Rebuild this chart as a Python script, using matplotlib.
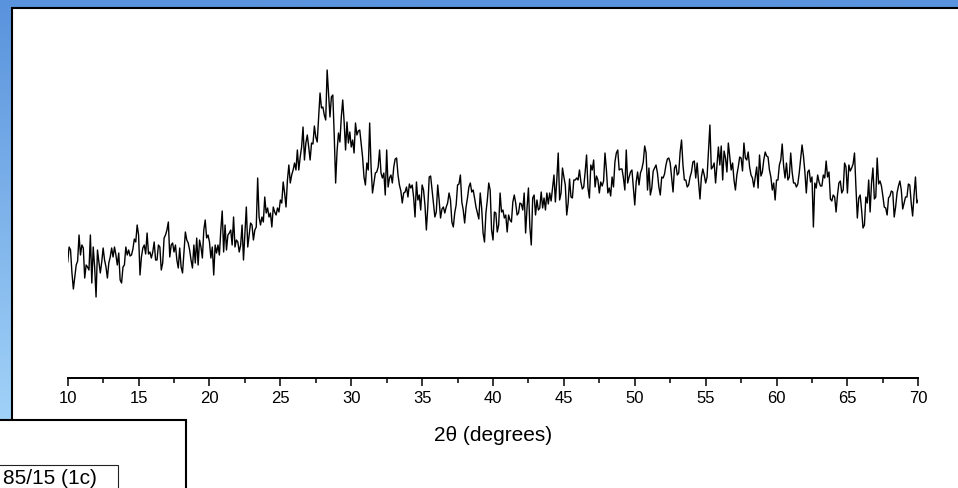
import numpy as np
import matplotlib
matplotlib.use('Agg')
import matplotlib.pyplot as plt
from matplotlib.patches import Rectangle

plt.rcParams['font.family'] = ['Liberation Sans', 'DejaVu Sans']

# ---------------- data ----------------
two_theta_start = 10.0
two_theta_end = 70.0
two_theta_step = 0.1

intensity = [
    58, 73, 70, 47, 31, 43, 55, 59, 85, 65,
    75, 72, 42, 55, 53, 50, 85, 37, 73, 53,
    23, 70, 58, 47, 58, 72, 60, 53, 42, 57,
    63, 72, 63, 73, 65, 55, 67, 40, 37, 53,
    55, 73, 65, 70, 64, 65, 71, 81, 78, 95,
    85, 45, 63, 72, 75, 66, 87, 66, 68, 62,
    68, 78, 60, 60, 75, 73, 50, 57, 82, 85,
    90, 98, 63, 75, 77, 68, 75, 60, 52, 72,
    53, 47, 68, 88, 80, 77, 70, 60, 52, 75,
    57, 82, 55, 80, 73, 62, 90, 100, 82, 85,
    78, 62, 73, 45, 75, 67, 75, 65, 90, 109,
    68, 95, 70, 85, 87, 90, 75, 103, 73, 80,
    78, 68, 75, 95, 60, 87, 113, 73, 85, 97,
    95, 80, 90, 93, 142, 103, 95, 103, 98, 123,
    107, 112, 103, 107, 93, 113, 108, 105, 112, 108,
    120, 117, 138, 127, 113, 140, 155, 137, 145, 150,
    157, 150, 170, 150, 163, 173, 193, 160, 177, 185,
    173, 160, 177, 176, 194, 183, 178, 203, 227, 212,
    213, 205, 200, 250, 227, 203, 223, 225, 185, 137,
    169, 187, 178, 203, 220, 198, 170, 198, 177, 188,
    173, 180, 167, 197, 185, 189, 190, 177, 163, 143,
    135, 157, 150, 197, 153, 127, 137, 147, 148, 153,
    170, 147, 142, 147, 125, 170, 133, 142, 145, 137,
    153, 161, 162, 145, 135, 129, 117, 127, 128, 133,
    123, 136, 132, 135, 123, 103, 138, 120, 125, 110,
    135, 130, 115, 90, 113, 143, 144, 130, 115, 103,
    108, 135, 120, 102, 111, 113, 107, 113, 117, 127,
    120, 98, 93, 107, 115, 135, 136, 145, 118, 110,
    97, 113, 122, 133, 137, 128, 130, 122, 113, 107,
    101, 127, 112, 87, 78, 107, 120, 137, 130, 90,
    80, 108, 107, 88, 95, 127, 108, 110, 102, 105,
    88, 105, 100, 98, 118, 125, 117, 105, 107, 117,
    116, 110, 127, 87, 112, 132, 93, 75, 122, 125,
    105, 120, 110, 112, 128, 112, 122, 110, 127, 116,
    127, 119, 132, 145, 118, 140, 167, 120, 127, 152,
    143, 135, 105, 117, 141, 123, 122, 140, 140, 142,
    140, 150, 138, 131, 133, 148, 165, 132, 122, 155,
    150, 160, 133, 144, 140, 127, 138, 134, 139, 167,
    150, 127, 132, 124, 143, 133, 158, 167, 170, 150,
    151, 151, 142, 130, 170, 137, 143, 148, 150, 132,
    115, 138, 148, 135, 147, 151, 158, 174, 167, 130,
    152, 125, 132, 149, 152, 155, 147, 133, 125, 143,
    142, 146, 155, 161, 162, 157, 142, 128, 152, 155,
    145, 147, 168, 180, 155, 140, 140, 133, 135, 143,
    148, 158, 159, 142, 157, 138, 121, 143, 151, 145,
    137, 143, 170, 195, 151, 153, 157, 137, 155, 173,
    155, 174, 140, 169, 162, 148, 177, 163, 150, 157,
    140, 130, 145, 153, 163, 162, 149, 177, 162, 160,
    168, 153, 145, 142, 133, 143, 153, 132, 165, 144,
    148, 160, 168, 164, 163, 150, 143, 130, 137, 120,
    140, 140, 155, 160, 176, 154, 142, 157, 140, 143,
    167, 148, 137, 137, 133, 136, 147, 161, 175, 164,
    148, 127, 148, 150, 138, 143, 93, 137, 132, 145,
    138, 134, 134, 145, 142, 159, 143, 148, 121, 119,
    125, 123, 108, 125, 137, 139, 127, 130, 157, 153,
    127, 155, 149, 152, 156, 167, 133, 102, 122, 125,
    110, 92, 95, 123, 117, 140, 108, 137, 152, 121,
    123, 162, 136, 139, 134, 124, 113, 112, 105, 122,
    124, 129, 128, 103, 113, 127, 134, 139, 130, 111,
    117, 123, 123, 136, 135, 117, 104, 125, 143, 117, 120,
]
two_theta = two_theta_start + two_theta_step * np.arange(len(intensity))

x_ticks = [10, 15, 20, 25, 30, 35, 40, 45, 50, 55, 60, 65, 70]
x_label = '2θ (degrees)'
sample_label = '85/15 (1c)'

# ---------------- layout ----------------
W, H = 958, 488
fig = plt.figure(figsize=(W / 100, H / 100), dpi=100)


def fx(px):
    return px / W


def fy(py):
    return 1 - py / H


bg = fig.add_axes([0, 0, 1, 1])
bg.set_axis_off()
g = np.linspace(0, 1, 256)[:, None, None]
top = np.array([90, 147, 221]) / 255.0
bot = np.array([172, 220, 252]) / 255.0
img = top + (bot - top) * g
img = np.repeat(img, 2, axis=1)
bg.imshow(img, aspect='auto', extent=[0, 1, 0, 1], origin='upper', zorder=0)
bg.set_xlim(0, 1)
bg.set_ylim(0, 1)

# white panel
bg.add_patch(Rectangle((fx(11.7), -0.1), 1.2, fy(7.7) + 0.1,
                       facecolor='white', edgecolor='black', lw=1.5,
                       clip_on=False, zorder=1))
# lower-left box
bg.add_patch(Rectangle((-0.1, -0.1), fx(185.7) + 0.1, fy(419.8) + 0.1,
                       facecolor='white', edgecolor='black', lw=1.5,
                       clip_on=False, zorder=2))
bg.add_patch(Rectangle((-0.1, -0.1), fx(118.3) + 0.1, fy(464.5) + 0.1,
                       facecolor='white', edgecolor='#222222', lw=0.8,
                       clip_on=False, zorder=3))
bg.text(fx(2.7), fy(483.5), sample_label, fontsize=15, color='black',
        ha='left', va='baseline', zorder=4)

# main axes
left_px, right_px = 67.7, 918.3
bottom_px, top_px = 377.5, 20.0
ax = fig.add_axes([fx(left_px), fy(bottom_px),
                   fx(right_px) - fx(left_px), fy(top_px) - fy(bottom_px)])
ax.patch.set_alpha(0)
ax.plot(two_theta, intensity, color='black', lw=1.0)
ax.set_xlim(10, 70)
ax.set_ylim(-57.5, 300)
for s in ['left', 'top', 'right']:
    ax.spines[s].set_visible(False)
ax.spines['bottom'].set_linewidth(1.4)
ax.set_yticks([])
ax.set_xticks(x_ticks)
ax.set_xticks(np.arange(12.5, 70, 5), minor=True)
ax.tick_params(axis='x', which='major', direction='out', length=6, width=1.1,
               pad=3.5, labelsize=12)
ax.tick_params(axis='x', which='minor', direction='out', length=3.5, width=1.1)
ax.set_xlabel(x_label, fontsize=15, va='baseline')
ax.xaxis.set_label_coords(0.5, (bottom_px - 441) / (bottom_px - top_px))

fig.savefig('out.png', dpi=100)
